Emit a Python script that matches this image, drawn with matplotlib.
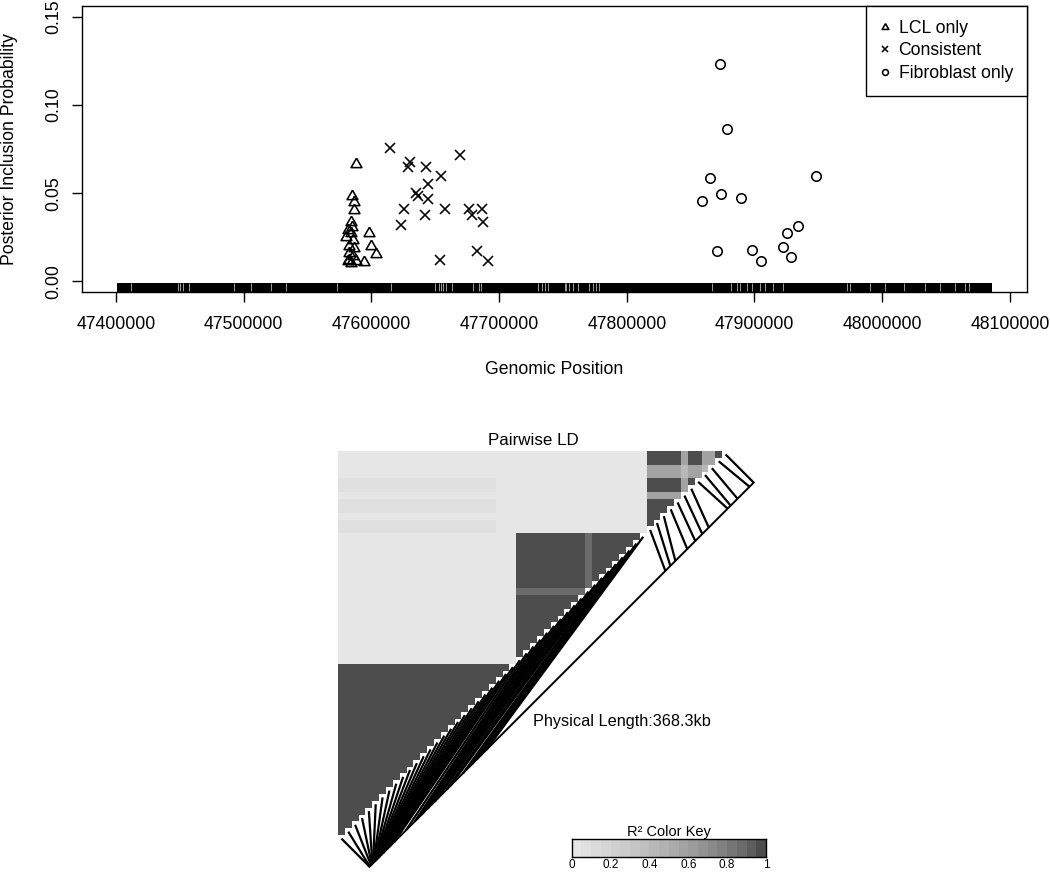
import matplotlib
matplotlib.use("Agg")
import matplotlib.pyplot as plt
import numpy as np
from matplotlib.colors import ListedColormap, BoundaryNorm
from matplotlib.collections import LineCollection
from matplotlib.lines import Line2D

plt.rcParams["font.family"] = ["Liberation Sans", "DejaVu Sans"]

# ---- top panel: posterior inclusion probabilities ----
lcl_pos = [47588000, 47584900, 47586700, 47586700, 47584100, 47584900, 47581400,
           47584100, 47580200, 47585300, 47598400, 47582700, 47586700, 47599800,
           47603700, 47582100, 47585900, 47582700, 47588000, 47594500, 47584100,
           47581400]
lcl_pip = [0.0665, 0.0481, 0.0447, 0.0406, 0.0334, 0.0308, 0.0293, 0.0274, 0.0252,
           0.0237, 0.0274, 0.0199, 0.0190, 0.0199, 0.0158, 0.0162, 0.0143, 0.0124,
           0.0114, 0.0109, 0.0105, 0.0114]

cons_pos = [47614700, 47630600, 47629000, 47642900, 47654700, 47669600, 47644700,
            47635000, 47636300, 47644700, 47625900, 47657500, 47641600, 47676300,
            47678700, 47686500, 47687800, 47623300, 47682900, 47653800, 47691500]
cons_pip = [0.0754, 0.0675, 0.0650, 0.0650, 0.0599, 0.0716, 0.0552, 0.0500, 0.0481,
            0.0466, 0.0411, 0.0411, 0.0378, 0.0411, 0.0378, 0.0411, 0.0334, 0.0321,
            0.0171, 0.0124, 0.0118]

fib_pos = [47873000, 47878400, 47865100, 47948200, 47873400, 47858600, 47889400,
           47934100, 47925200, 47870400, 47898300, 47922600, 47928400, 47904900]
fib_pip = [0.1233, 0.0861, 0.0586, 0.0597, 0.0496, 0.0458, 0.0473, 0.0316, 0.0272,
           0.0171, 0.0180, 0.0196, 0.0141, 0.0117]

# rug of all SNPs: dense, drawn as a band with the visible gaps
rug_start, rug_end = 47400800, 48086000
rug_gaps = [47411500, 47448600, 47450200, 47452800, 47457300, 47492800, 47506100,
            47521300, 47533100, 47572800, 47615400, 47649800, 47652800, 47654700,
            47655900, 47658600, 47663100, 47679400, 47684200, 47685600, 47730400,
            47733900, 47735700, 47738300, 47751400, 47752700, 47754700, 47757900,
            47761800, 47770400, 47773600, 47776200, 47778300, 47866400, 47881900,
            47886000, 47888600, 47893900, 47897800, 47904300, 47908200, 47914700,
            47922600, 47972300, 47974900, 47990600, 48002400, 48016700, 48033700,
            48045500, 48057300, 48065100, 48067700]

x_ticks = [47400000, 47500000, 47600000, 47700000, 47800000, 47900000, 48000000, 48100000]
y_ticks = [0.00, 0.05, 0.10, 0.15]

# ---- bottom panel: pairwise LD ----
ld_pos = [47580000, 47580200, 47581400, 47582100, 47582700, 47583300, 47583800,
          47584100, 47584500, 47584900, 47585300, 47585900, 47586300, 47586700,
          47587100, 47587500, 47588000, 47588600, 47589500, 47591000, 47592800,
          47594500, 47596500, 47598400, 47599800, 47603700,
          47614700, 47623300, 47625900, 47629000, 47630600, 47635000, 47636300,
          47641600, 47642900, 47644700, 47653800, 47654700, 47657500, 47669600,
          47676300, 47678700, 47682900, 47686500, 47691500,
          47863600, 47868400, 47873200, 47884600, 47892300, 47899000, 47905200,
          47923300, 47926200, 47932800, 47944300, 47948300]
ld_blocks = [(0, 26), (26, 45), (45, 57)]
ld_block_r2 = 0.97
ld_bg_r2 = 0.01
ld_weak_snps = {36: 0.86, 50: 0.57, 53: 0.57, 54: 0.57}
ld_faint_rows = [45, 46, 48, 49, 51, 52]
ld_faint_cols = 23
ld_faint_r2 = 0.07
key_ticks = [0, 0.2, 0.4, 0.6, 0.8, 1]


def ld_matrix():
    n = len(ld_pos)
    r2 = np.full((n, n), ld_bg_r2)
    for a, b in ld_blocks:
        r2[a:b, a:b] = ld_block_r2
    for a, b in ld_blocks:
        for s, v in ld_weak_snps.items():
            if a <= s < b:
                for o in range(a, b):
                    r2[s, o] = r2[o, s] = min(v, r2[s, o]) if o not in ld_weak_snps else v - 0.15
    for r in ld_faint_rows:
        r2[r, :ld_faint_cols] = ld_faint_r2
    return r2


def grey_cmap():
    j = np.arange(20)
    g = (0.3 ** 2.2 + j / 19 * (0.9 ** 2.2 - 0.3 ** 2.2)) ** (1 / 2.2)
    return ListedColormap([(v, v, v) for v in g[::-1]])


fig = plt.figure(figsize=(10.5, 8.72), dpi=100)

# top scatter
ax = fig.add_axes([82 / 1050, 1 - 292 / 872, 945 / 1050, 286 / 872])
pad = 0.04 * (rug_end - rug_start)
ax.set_xlim(rug_start - pad, rug_end + pad)
ax.set_ylim(-0.006, 0.156)

tri = [(0, 1), (0.866, -0.5), (-0.866, -0.5), (0, 1)]
mk = dict(linestyle="none", mfc="none", mec="black", mew=1.15)
ax.plot(lcl_pos, lcl_pip, marker=tri, ms=9, **mk)
ax.plot(cons_pos, cons_pip, marker="x", ms=7, **mk)
ax.plot(fib_pos, fib_pip, marker="o", ms=6.8, **mk)

xt = ax.get_xaxis_transform()
ax.axvspan(rug_start, rug_end, ymin=0, ymax=0.03, color="black", lw=0, zorder=1)
ax.vlines(rug_gaps, 0.003, 0.03, transform=xt, colors="#c8c8c8", lw=0.55, zorder=1.5)

ax.set_xticks(x_ticks)
ax.set_xticklabels([str(t) for t in x_ticks])
ax.set_yticks(y_ticks)
ax.set_yticklabels([f"{t:.2f}" for t in y_ticks], rotation=90, va="center")
ax.tick_params(axis="both", length=7, width=1, labelsize=12.7, direction="out")
ax.tick_params(axis="x", pad=10.5)
ax.tick_params(axis="y", pad=7)
for s in ax.spines.values():
    s.set_linewidth(1.0)
ax.set_xlabel("Genomic Position", fontsize=12.7)
ax.xaxis.set_label_coords(0.5, -0.24)
ax.set_ylabel("Posterior Inclusion Probability", fontsize=12.7)
ax.yaxis.set_label_coords(-0.068, 0.5)

handles = [
    Line2D([], [], marker=tri, ms=9, **mk),
    Line2D([], [], marker="x", ms=7, **mk),
    Line2D([], [], marker="o", ms=6.8, **mk),
]
leg = ax.legend(handles, ["LCL only", "Consistent", "Fibroblast only"], loc="upper right",
                bbox_to_anchor=(1, 1), borderaxespad=0, fontsize=12.7, markerscale=0.62,
                handlelength=0.55, handletextpad=0.5, labelspacing=0.3, borderpad=0.8,
                fancybox=False, framealpha=1)
leg.get_frame().set_edgecolor("black")
leg.get_frame().set_linewidth(1.0)

# LD heatmap
n = len(ld_pos)
r2 = ld_matrix()
rows, cols = np.indices((n, n))
cmap = grey_cmap()
norm = BoundaryNorm(np.linspace(0, 1, 21), 20)

ax2 = fig.add_axes([338 / 1050, 1 - 842 / 872, 391 / 1050, 391 / 872])
ax2.pcolormesh(np.arange(n + 1), np.arange(n + 1), np.ma.masked_where(cols >= rows, r2),
               cmap=cmap, norm=norm)
ax2.set_xlim(0, n)
ax2.set_ylim(0, n)
ax2.axis("off")

pos = np.array(ld_pos, dtype=float)
t = (pos - pos.min()) / (pos.max() - pos.min())
off = 4.1
m0 = np.array([0.5 + off, 0.5 - off])
m1 = np.array([n - 0.5 + off, n - 0.5 - off])
diag = np.column_stack([np.arange(n) + 0.5, np.arange(n) + 0.5])
mapped = m0 + t[:, None] * (m1 - m0)
segs = [[tuple(d), tuple(m)] for d, m in zip(diag, mapped)]
ax2.add_collection(LineCollection(segs, colors="black", lw=1.6, clip_on=False))
ax2.plot([m0[0], m1[0]], [m0[1], m1[1]], color="black", lw=1.4, clip_on=False)

ax2.text(n / 2, n + 1.6, "Pairwise LD", ha="center", va="center", fontsize=12.2)
ax2.text(28.4, 17.5, f"Physical Length:{(pos.max() - pos.min()) / 1000:.1f}kb",
         ha="left", va="center", fontsize=11.7)

# colour key
ax3 = fig.add_axes([571.7 / 1050, 1 - 857.3 / 872, 194.3 / 1050, 18.3 / 872])
ax3.pcolormesh(np.linspace(0, 1, 21), [0, 1], (np.arange(20)[None, :] + 0.5) / 20,
               cmap=cmap, norm=norm)
ax3.set_xlim(0, 1)
ax3.set_ylim(0, 1)
ax3.set_yticks([])
ax3.set_xticks(key_ticks)
ax3.set_xticklabels([f"{k:g}" for k in key_ticks])
ax3.tick_params(axis="x", length=0, pad=1.5, labelsize=8.5)
for s in ax3.spines.values():
    s.set_linewidth(1.0)
ax3.set_title("R\u00b2 Color Key", fontsize=10.5, pad=2.5)

fig.savefig("out.png", dpi=100)
